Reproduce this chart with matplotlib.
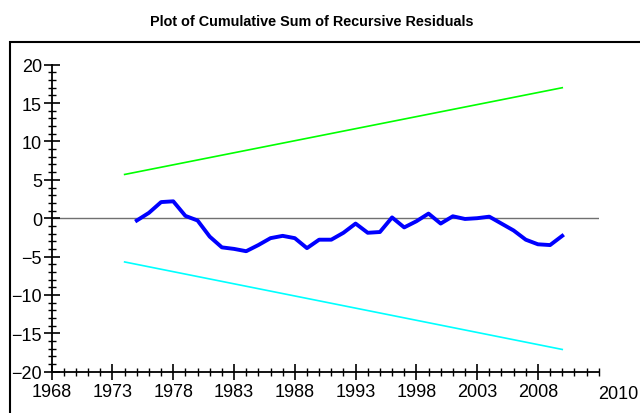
import numpy as np
import matplotlib.pyplot as plt
from matplotlib.patches import Rectangle
from matplotlib.ticker import MultipleLocator

FONT = ["Liberation Sans", "DejaVu Sans"]

years = list(range(1975, 2011))
cusum = [-0.3, 0.7, 2.1, 2.2, 0.3, -0.3, -2.4, -3.8, -4.0, -4.3,
         -3.5, -2.6, -2.3, -2.6, -3.9, -2.8, -2.8, -1.9, -0.7, -1.9,
         -1.8, 0.1, -1.2, -0.4, 0.6, -0.7, 0.25, -0.1, 0.0, 0.2,
         -0.7, -1.6, -2.8, -3.4, -3.5, -2.3]
band_years = [1974, 2010]
upper = [5.7, 17.0]
lower = [-5.7, -17.1]


def main():
    plt.rcParams["font.family"] = FONT
    fig = plt.figure(figsize=(6.4, 4.14), dpi=100)

    # outer frame, runs off the right and bottom of the image
    frame = Rectangle((10 / 640, -0.2), 1.2, 1 - 42.5 / 414 + 0.2,
                      transform=fig.transFigure, fill=False,
                      edgecolor="black", linewidth=1.5)
    fig.patches.append(frame)

    fig.text(312 / 640, 1 - 22 / 414, "Plot of Cumulative Sum of Recursive Residuals",
             ha="center", va="center", fontsize=10.4, fontweight="bold")

    ax = fig.add_axes([51.7 / 640, 1 - 372.7 / 414, 547 / 640, 307 / 414])
    ax.axhline(0, color="#707070", linewidth=1, zorder=1)
    ax.plot(band_years, upper, color="#00ff00", linewidth=1.2)
    ax.plot(band_years, lower, color="#00ffff", linewidth=1.2)
    ax.plot(years, cusum, color="#0000ff", linewidth=2.8)

    ax.set_xlim(1968, 2013)
    ax.set_ylim(-20, 20)
    ax.set_xticks(np.arange(1968, 2009, 5))
    ax.xaxis.set_minor_locator(MultipleLocator(1))
    ax.yaxis.set_major_locator(MultipleLocator(5))
    ax.yaxis.set_minor_locator(MultipleLocator(1))

    for s in ["top", "right"]:
        ax.spines[s].set_visible(False)
    for s in ["left", "bottom"]:
        ax.spines[s].set_linewidth(1.3)

    ax.tick_params(which="major", direction="inout", length=12, width=1.2,
                   labelsize=13, pad=1)
    ax.tick_params(which="minor", direction="inout", length=6, width=1)
    ax.tick_params(axis="x", which="major", pad=2)

    # the last label sits past the end of the axis
    ax.text(1.036, -0.043, "2010", transform=ax.transAxes,
            ha="center", va="top", fontsize=13)

    plt.savefig("out.png", dpi=100)


if __name__ == "__main__":
    main()
